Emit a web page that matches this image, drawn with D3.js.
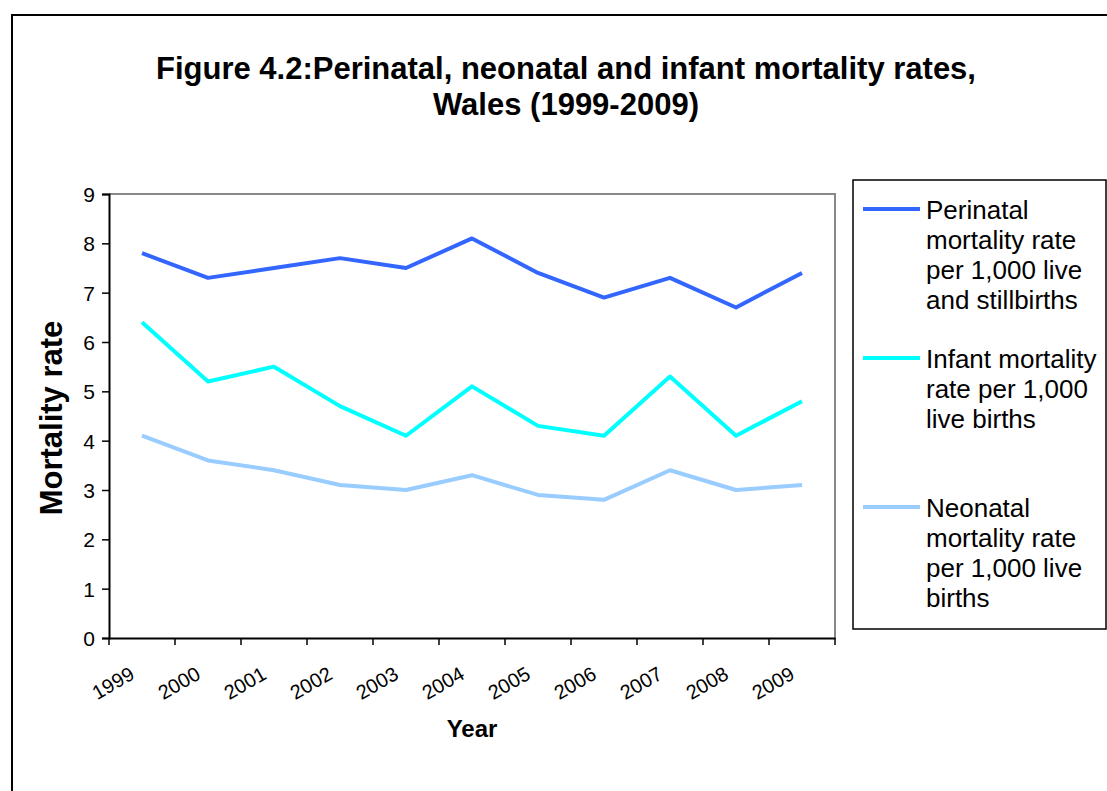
<!DOCTYPE html>
<html>
<head>
<meta charset="utf-8">
<script src="https://cdn.jsdelivr.net/npm/d3@7"></script>
<style>
    body { margin: 0; background: white; }
    text { font-family: "Liberation Sans", Arial, sans-serif; }
</style>
</head>
<body>
<div id="chart"></div>
<script>
const years = ["1999", "2000", "2001", "2002", "2003", "2004", "2005", "2006", "2007", "2008", "2009"];
const perinatal = [7.8, 7.3, 7.5, 7.7, 7.5, 8.1, 7.4, 6.9, 7.3, 6.7, 7.4];
const infant = [6.4, 5.2, 5.5, 4.7, 4.1, 5.1, 4.3, 4.1, 5.3, 4.1, 4.8];
const neonatal = [4.1, 3.6, 3.4, 3.1, 3.0, 3.3, 2.9, 2.8, 3.4, 3.0, 3.1];
const yTicks = [0, 1, 2, 3, 4, 5, 6, 7, 8, 9];

const seriesNames = [
    ["Perinatal", "mortality rate", "per 1,000 live", "and stillbirths"],
    ["Infant mortality", "rate per 1,000", "live births"],
    ["Neonatal", "mortality rate", "per 1,000 live", "births"]
];
const seriesColors = ["#3366ff", "#00ffff", "#99ccff"];
const seriesValues = [perinatal, infant, neonatal];

const width = 1107, height = 791;
const plot = {left: 109, right: 835, top: 194, bottom: 638};

const svg = d3.select("#chart").append("svg")
    .attr("width", width)
    .attr("height", height);

// outer chart border (runs off the right and bottom of the picture)
svg.append("rect")
    .attr("x", 12)
    .attr("y", 15)
    .attr("width", 1200)
    .attr("height", 900)
    .style("fill", "white")
    .style("stroke", "black")
    .style("stroke-width", 2);

const title = svg.append("text")
    .attr("text-anchor", "middle")
    .style("font-weight", "bold")
    .style("font-size", "31px");
title.append("tspan").attr("x", 566).attr("y", 79)
    .text("Figure 4.2:Perinatal, neonatal and infant mortality rates,");
title.append("tspan").attr("x", 566).attr("y", 115)
    .text("Wales (1999-2009)");

const x = d3.scaleBand()
    .domain(years)
    .range([plot.left, plot.right]);
const y = d3.scaleLinear()
    .domain([0, 9])
    .range([plot.bottom, plot.top]);

// plot area frame, grey on top and right
svg.append("path")
    .attr("d", `M${plot.left},${plot.top}H${plot.right}V${plot.bottom}`)
    .style("fill", "none")
    .style("stroke", "#888")
    .style("stroke-width", 2);

const yAxis = svg.append("g")
    .attr("transform", `translate(${plot.left},0)`)
    .call(d3.axisLeft(y).tickValues(yTicks).tickSize(7).tickPadding(7).tickFormat(d3.format("d")));
yAxis.attr("font-size", 21).attr("font-family", null);
yAxis.select(".domain").style("stroke-width", 2);
yAxis.selectAll(".tick line").style("stroke-width", 1.5);
yAxis.selectAll(".tick text")
    .style("font-size", "21px")
    .attr("dy", "0.36em");

const xAxis = svg.append("g")
    .attr("transform", `translate(0,${plot.bottom})`)
    .call(d3.axisBottom(x).tickSize(0).tickFormat(""));
xAxis.select(".domain").style("stroke-width", 2);
xAxis.selectAll(".tick").remove();

// ticks sit on the band edges
const edges = years.map(d => x(d)).concat([plot.right]);
xAxis.selectAll(".edge")
    .data(edges)
    .enter().append("line")
    .attr("class", "edge")
    .attr("x1", d => d)
    .attr("x2", d => d)
    .attr("y1", 0)
    .attr("y2", 7)
    .style("stroke", "black")
    .style("stroke-width", 1.5);

xAxis.selectAll(".year")
    .data(years)
    .enter().append("text")
    .attr("class", "year")
    .attr("text-anchor", "middle")
    .attr("transform", d => `translate(${x(d) + 4},${45}) rotate(-30)`)
    .attr("dy", "0.35em")
    .style("fill", "black")
    .style("font-size", "20px")
    .text(d => d);

svg.append("text")
    .attr("text-anchor", "middle")
    .attr("x", 472)
    .attr("y", 737)
    .style("font-weight", "bold")
    .style("font-size", "24px")
    .text("Year");

svg.append("text")
    .attr("text-anchor", "middle")
    .attr("transform", "translate(62,418) rotate(-90)")
    .style("font-weight", "bold")
    .style("font-size", "31px")
    .text("Mortality rate");

const line = d3.line()
    .x((d, i) => x(years[i]) + x.bandwidth()/2)
    .y(d => y(d));

svg.append("g").selectAll("path")
    .data(seriesValues)
    .enter().append("path")
    .attr("d", line)
    .style("fill", "none")
    .style("stroke", (d, i) => seriesColors[i])
    .style("stroke-width", 4)
    .style("stroke-linejoin", "round");

// legend
const legend = svg.append("g");
legend.append("rect")
    .attr("x", 853)
    .attr("y", 180)
    .attr("width", 253)
    .attr("height", 449)
    .style("fill", "white")
    .style("stroke", "black")
    .style("stroke-width", 1.5);

const entries = legend.selectAll(".entry")
    .data(seriesNames)
    .enter().append("g")
    .attr("class", "entry")
    .attr("transform", (d, i) => `translate(0,${209 + i*149})`);
entries.append("line")
    .attr("x1", 863)
    .attr("x2", 920)
    .attr("y1", 0)
    .attr("y2", 0)
    .style("stroke", (d, i) => seriesColors[i])
    .style("stroke-width", 4);
entries.append("text")
    .style("font-size", "26px")
    .selectAll("tspan")
    .data(d => d)
    .enter().append("tspan")
    .attr("x", 926)
    .attr("y", (d, i) => 10 + i*30)
    .text(d => d);
</script>
</body>
</html>
